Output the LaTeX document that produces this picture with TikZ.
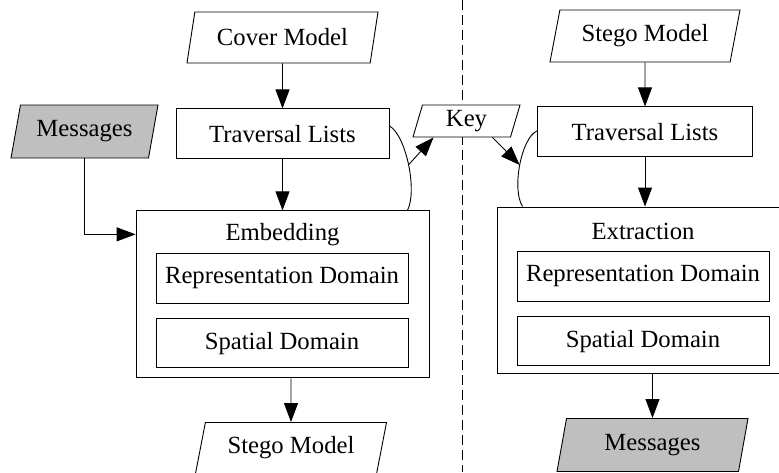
\documentclass[tikz,border=0pt]{standalone}
\usepackage{fontspec}
\setmainfont{Liberation Serif}
\usetikzlibrary{positioning,shapes.geometric,arrows.meta}

\tikzset{
  box/.style={draw, rectangle, minimum height=50pt, inner sep=2pt},
  para/.style={draw, fill=white, trapezium, trapezium left angle=68,
    trapezium right angle=112, trapezium stretches body,
    minimum width=191pt, minimum height=51pt, inner sep=1pt},
  io/.style={para, fill=black!25, minimum height=53pt},
}

\begin{document}
\begin{tikzpicture}[x=1pt, y=-1pt, line width=0.9pt,
    >={Triangle[length=19pt,width=14pt]},
    font=\fontsize{24.7}{30}\selectfont]

  \clip (0,0) rectangle (779,472);

  % ── Divider between the two halves ───────────────────────────
  \coordinate (divTop) at (462,0);
  \coordinate (divBot) at (462,472);
  \draw[dash pattern=on 10pt off 5pt, line width=0.8pt] (divTop) -- (divBot);

  % ── Embedding side ───────────────────────────────────────────
  \node[para]                                  (coverM)   at (282.5,37.5) {Cover Model};
  \node[box, minimum width=213pt, below=45pt of coverM] (travL) {Traversal Lists};
  \node[box, minimum width=293pt, minimum height=167pt,
        below=51pt of travL]                   (embed)    {};
  \node                                        (embedT)   at ([yshift=-24pt]embed.north) {Embedding};
  \node[box, minimum width=252pt]              (repL)     at (282,278) {Representation Domain};
  \node[box, minimum width=252pt, minimum height=49pt,
        below=15pt of repL]                    (spatL)    {Spatial Domain};
  \node[para]                                  (stegoOut) at (291,448) {Stego Model};
  \node[io, minimum width=147pt]               (msgIn)    at (84.5,131.5) {Messages};

  % ── Extraction side ──────────────────────────────────────────
  \node[para, minimum width=190pt, minimum height=52pt] (stegoIn) at (645,36) {Stego Model};
  \node[box, minimum width=215pt, below=44pt of stegoIn] (travR) {Traversal Lists};
  \node[box, minimum width=292pt, minimum height=166pt] (extr) at (643,290) {};
  \node                                        (extrT)    at ([yshift=-25pt]extr.north) {Extraction};
  \node[box, minimum width=252pt]              (repR)     at (643,276) {Representation Domain};
  \node[box, minimum width=252pt, minimum height=49pt,
        below=15pt of repR]                    (spatR)    {Spatial Domain};
  \node[io]                                    (msgOut)   at (652.5,445) {Messages};

  % ── Shared key ───────────────────────────────────────────────
  \node[para, minimum width=107pt, minimum height=32pt] (key) at (466.5,121) {Key};

  % ── Main flow ────────────────────────────────────────────────
  \draw[->] (coverM) -- (travL);
  \draw[->] (travL) -- (travL |- embed.north);
  \draw[->] (msgIn) |- (embed.west |- embedT);
  \draw[->] (embed.south -| stegoOut) -- (stegoOut);

  \draw[->] (stegoIn) -- (travR);
  \draw[->] (travR) -- (travR |- extr.north);
  \draw[->] (extr.south -| msgOut) -- (msgOut);

  % Key generated from the lists, used again on extraction
  \draw ([yshift=8pt]travL.east) .. controls +(17,10) and +(10,-19)
        .. ([xshift=-22pt]embed.north east) coordinate[pos=0.5] (bendL);
  \draw[->] (bendL) -- ([xshift=-33pt]key.south);

  \draw ([yshift=1pt]travR.west) .. controls +(-16,7) and +(-11,-17)
        .. ([xshift=26pt]extr.north west) coordinate[pos=0.5] (bendR);
  \draw[->] ([xshift=26pt]key.south) -- (bendR);

\end{tikzpicture}
\end{document}
